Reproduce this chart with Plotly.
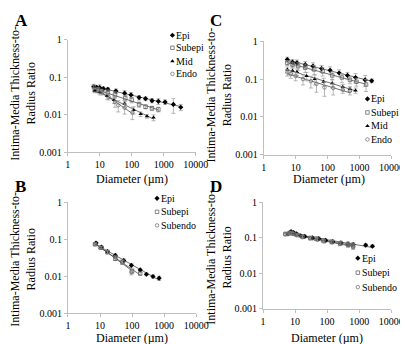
import numpy as np
import plotly.graph_objects as go

W, H = 408, 344
FONT = "Liberation Serif"

# ---------------- data ----------------
# Panel A
A_epi_d = [6.5, 8, 10, 13, 18, 32, 60, 95, 170, 270, 430, 680, 1100, 2000, 3400]
A_epi_v = [0.056, 0.054, 0.053, 0.05, 0.048, 0.043, 0.038, 0.034, 0.029, 0.027, 0.024, 0.023, 0.022, 0.019, 0.016]
A_epi_e = [0.006, 0.006, 0.01, 0.006, 0.006, 0.006, 0.006, 0.005, 0.004, 0.003, 0.003, 0.004, 0.003, 0.008, 0.003]
A_sub_d = [7, 8.5, 11, 18, 30, 63, 100, 170, 270, 430, 680]
A_sub_v = [0.046, 0.044, 0.043, 0.04, 0.035, 0.028, 0.025, 0.019, 0.0165, 0.015, 0.014]
A_sub_e = [0.005, 0.005, 0.005, 0.006, 0.006, 0.005, 0.004, 0.003, 0.002, 0.002, 0.002]
A_mid_d = [7, 10, 17, 28, 60, 115, 190, 300, 480]
A_mid_v = [0.045, 0.04, 0.032, 0.025, 0.02, 0.0135, 0.0105, 0.0092, 0.0085]
A_mid_e = [0.006, 0.006, 0.006, 0.005, 0.004, 0.003, 0.0015, 0.001, 0.0015]
A_endo_d = [6.5, 9, 12, 19, 30, 38, 60, 105]
A_endo_v = [0.057, 0.047, 0.04, 0.03, 0.022, 0.018, 0.0155, 0.0115]
A_endo_e = [0.008, 0.006, 0.006, 0.005, 0.006, 0.006, 0.005, 0.004]

# Panel C
C_epi_d = [5.5, 8, 11, 20, 35, 65, 120, 230, 420, 750, 1500, 2400]
C_epi_v = [0.33, 0.28, 0.27, 0.24, 0.22, 0.19, 0.17, 0.145, 0.125, 0.11, 0.095, 0.09]
C_epi_e = [0.05, 0.05, 0.05, 0.05, 0.05, 0.04, 0.04, 0.03, 0.025, 0.03, 0.03, 0.01]
C_sub_d = [5.5, 8, 12, 20, 38, 70, 140, 280, 500, 800, 1600]
C_sub_v = [0.27, 0.24, 0.22, 0.2, 0.18, 0.16, 0.125, 0.11, 0.095, 0.085, 0.072]
C_sub_e = [0.04, 0.04, 0.05, 0.05, 0.05, 0.04, 0.03, 0.03, 0.02, 0.02, 0.025]
C_mid_d = [5.5, 8, 11, 22, 40, 75, 140, 300, 500, 750]
C_mid_v = [0.18, 0.165, 0.155, 0.12, 0.1, 0.085, 0.078, 0.062, 0.055, 0.05]
C_mid_e = [0.03, 0.03, 0.03, 0.03, 0.03, 0.02, 0.02, 0.01, 0.008, 0.008]
C_endo_d = [5.5, 7, 10, 17, 30, 45, 80, 150, 300, 500]
C_endo_v = [0.15, 0.135, 0.12, 0.1, 0.088, 0.075, 0.06, 0.058, 0.052, 0.048]
C_endo_e = [0.03, 0.03, 0.03, 0.03, 0.03, 0.03, 0.025, 0.02, 0.01, 0.01]

# Panel B
B_epi_d = [7.5, 11, 17, 30, 55, 95, 180, 280, 450, 700]
B_epi_v = [0.08, 0.062, 0.047, 0.037, 0.027, 0.02, 0.015, 0.0115, 0.01, 0.009]
B_epi_e = [0.006, 0.005, 0.004, 0.004, 0.003, 0.002, 0.0015, 0.001, 0.001, 0.0012]
B_sub_d = [7, 11, 17, 30, 50, 100, 180]
B_sub_v = [0.074, 0.06, 0.046, 0.03, 0.024, 0.014, 0.012]
B_sub_e = [0.005, 0.004, 0.004, 0.003, 0.003, 0.002, 0.001]
B_endo_d = [7, 10, 17, 30, 50, 95]
B_endo_v = [0.075, 0.06, 0.045, 0.033, 0.025, 0.013]
B_endo_e = [0.005, 0.004, 0.004, 0.003, 0.003, 0.002]

# Panel D
D_epi_d = [6, 7.5, 9, 11, 15, 20, 35, 55, 90, 150, 270, 450, 650, 1600, 2600]
D_epi_v = [0.13, 0.15, 0.14, 0.13, 0.115, 0.11, 0.1, 0.095, 0.085, 0.078, 0.072, 0.068, 0.065, 0.062, 0.058]
D_epi_e = [0.01, 0.012, 0.012, 0.012, 0.01, 0.01, 0.01, 0.01, 0.008, 0.008, 0.008, 0.008, 0.008, 0.006, 0.005]
D_sub_d = [5, 7, 9, 12, 17, 30, 45, 75, 140, 260, 450, 650]
D_sub_v = [0.13, 0.14, 0.13, 0.12, 0.11, 0.1, 0.095, 0.085, 0.078, 0.07, 0.065, 0.06]
D_sub_e = [0.01, 0.012, 0.012, 0.01, 0.01, 0.01, 0.01, 0.008, 0.008, 0.008, 0.008, 0.01]
D_endo_d = [5, 6.5, 8, 11, 17, 30, 50, 80, 140, 250, 450, 650]
D_endo_v = [0.125, 0.13, 0.135, 0.12, 0.105, 0.097, 0.09, 0.08, 0.075, 0.068, 0.062, 0.055]
D_endo_e = [0.01, 0.01, 0.012, 0.01, 0.01, 0.01, 0.01, 0.008, 0.008, 0.008, 0.008, 0.008]

x_tickvals = [1, 10, 100, 1000, 10000]
x_ticktext = ["1", "10", "100", "1000", "10000"]
y_tickvals = [0.001, 0.01, 0.1, 1]
y_ticktext = ["0.001", "0.01", "0.1", "1"]

# ---------------- styles ----------------
STY = {
    "Epi": dict(symbol="diamond", size=4, color="black", line=dict(width=0, color="black")),
    "Subepi": dict(symbol="square-open", size=3.5, color="#555555", line=dict(width=0.7, color="#555555")),
    "Mid": dict(symbol="triangle-up", size=4, color="black", line=dict(width=0, color="black")),
    "Endo": dict(symbol="circle-open", size=3.5, color="#666666", line=dict(width=0.7, color="#666666")),
    "Subendo": dict(symbol="circle-open", size=3.5, color="#666666", line=dict(width=0.7, color="#666666")),
}

BOX = {
    "A": (59, 192.3, 26.7, 143.5),
    "C": (263, 396, 28.3, 145.7),
    "B": (59.3, 192.7, 195.3, 310.3),
    "D": (262.3, 395.7, 195.3, 305.3),
}
AX = {"A": ("x", "y"), "C": ("x2", "y2"), "B": ("x3", "y3"), "D": ("x4", "y4")}

PANELS = {
    "A": [("Epi", A_epi_d, A_epi_v, A_epi_e), ("Subepi", A_sub_d, A_sub_v, A_sub_e),
          ("Mid", A_mid_d, A_mid_v, A_mid_e), ("Endo", A_endo_d, A_endo_v, A_endo_e)],
    "C": [("Epi", C_epi_d, C_epi_v, C_epi_e), ("Subepi", C_sub_d, C_sub_v, C_sub_e),
          ("Mid", C_mid_d, C_mid_v, C_mid_e), ("Endo", C_endo_d, C_endo_v, C_endo_e)],
    "B": [("Epi", B_epi_d, B_epi_v, B_epi_e), ("Subepi", B_sub_d, B_sub_v, B_sub_e),
          ("Subendo", B_endo_d, B_endo_v, B_endo_e)],
    "D": [("Epi", D_epi_d, D_epi_v, D_epi_e), ("Subepi", D_sub_d, D_sub_v, D_sub_e),
          ("Subendo", D_endo_d, D_endo_v, D_endo_e)],
}

fig = go.Figure()

for p, series in PANELS.items():
    xa, ya = AX[p]
    for name, d, v, e in series:
        ld, lv = np.log10(d), np.log10(v)
        k, b = np.polyfit(ld, lv, 1)
        xs = np.array([min(d), max(d)])
        fig.add_trace(go.Scatter(x=xs, y=10 ** (b + k * np.log10(xs)), mode="lines",
                                 line=dict(color="#333333", width=0.7),
                                 xaxis=xa, yaxis=ya, showlegend=False, hoverinfo="skip"))
    for name, d, v, e in series:
        s = STY[name]
        fig.add_trace(go.Scatter(
            x=d, y=v, mode="markers", name=name,
            marker=dict(symbol=s["symbol"], size=s["size"], color=s["color"], line=s["line"]),
            error_y=dict(type="data", array=e, visible=True, color="#999999", thickness=0.7, width=2),
            xaxis=xa, yaxis=ya, showlegend=False))

axis_common = dict(showgrid=False, zeroline=False, showline=True, linecolor="#bfbfbf", linewidth=1,
                   ticks="outside", ticklen=3, tickcolor="#bfbfbf",
                   tickfont=dict(family=FONT, size=10, color="black"))

layout = dict(
    width=W, height=H, margin=dict(l=0, r=0, t=0, b=0),
    paper_bgcolor="white", plot_bgcolor="rgba(255,255,255,0)",
    font=dict(family=FONT, size=10, color="black"),
    showlegend=False,
)
for i, p in enumerate(["A", "C", "B", "D"]):
    x0, x1, yt, yb = BOX[p]
    sfx = "" if i == 0 else str(i + 1)
    layout["xaxis" + sfx] = dict(axis_common, type="log", range=[0, 4], domain=[x0 / W, x1 / W],
                                 anchor="y" + sfx, tickvals=x_tickvals, ticktext=x_ticktext)
    layout["yaxis" + sfx] = dict(axis_common, type="log", range=[-3, 0], domain=[1 - yb / H, 1 - yt / H],
                                 anchor="x" + sfx, tickvals=y_tickvals, ticktext=y_ticktext)

layout["xaxis5"] = dict(domain=[0, 1], range=[0, W], visible=False, anchor="y5")
layout["yaxis5"] = dict(domain=[0, 1], range=[H, 0], visible=False, anchor="x5")

annotations = []
for letter, (lx, ly) in {"A": (2, 7), "C": (205, 7), "B": (2, 179), "D": (205, 179)}.items():
    annotations.append(dict(x=lx, y=ly, xref="x5", yref="y5", text="<b>%s</b>" % letter, showarrow=False,
                            xanchor="left", yanchor="middle", font=dict(family=FONT, size=17)))
for (cx, cy) in [(13, 82), (217, 84), (13, 254), (217, 252)]:
    annotations.append(dict(x=cx, y=cy, xref="x5", yref="y5", textangle=-90,
                            text="Intima-Media Thickness-to-<br>Radius Ratio", showarrow=False,
                            xanchor="center", yanchor="middle", font=dict(family=FONT, size=12)))
for (cx, cy) in [(126, 171), (331, 171), (126, 336), (329, 336)]:
    annotations.append(dict(x=cx, y=cy, xref="x5", yref="y5", text="Diameter (µm)", showarrow=False,
                            xanchor="center", yanchor="middle", font=dict(family=FONT, size=12)))

LEG = {
    "A": (168, [22, 35, 49, 62]),
    "C": (371, [88, 102, 116, 130]),
    "B": (152, [191, 205, 219]),
    "D": (361, [253, 268, 283]),
}
for p, (mx, ys) in LEG.items():
    for (name, d, v, e), yy in zip(PANELS[p], ys):
        s = STY[name]
        fig.add_trace(go.Scatter(x=[mx], y=[yy], mode="markers", xaxis="x5", yaxis="y5",
                                 marker=dict(symbol=s["symbol"], size=s["size"], color=s["color"], line=s["line"]),
                                 showlegend=False, hoverinfo="skip"))
        annotations.append(dict(x=mx + 3, y=yy, xref="x5", yref="y5", text=name, showarrow=False,
                                xanchor="left", yanchor="middle", borderpad=0,
                                font=dict(family=FONT, size=10)))

layout["annotations"] = annotations
fig.update_layout(**layout)
fig.write_html("out.html")
